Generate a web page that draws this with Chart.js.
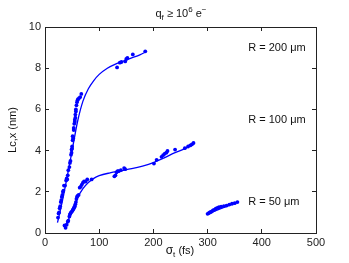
<!DOCTYPE html>
<html>
<head>
<meta charset="utf-8">
<script src="https://cdn.jsdelivr.net/npm/chart.js@4.4.1/dist/chart.umd.min.js"></script>
<style>
  html, body { margin: 0; padding: 0; background: #fff; }
</style>
</head>
<body>
<canvas id="chart" width="349" height="263"></canvas>
<script>
const r200X = [24, 25, 26, 27, 28, 29, 30, 31, 32, 33, 34, 35, 37, 39, 40, 41, 42, 43, 45, 46, 47, 48, 49, 49, 50, 50, 51, 51, 52, 53, 53, 54, 55, 55, 56, 56, 57, 57, 58, 59, 60, 61, 63, 65, 67,
               133, 138, 141, 148, 150, 152, 162, 185];
const r200Y = [0.75, 0.95, 1.0, 1.2, 1.3, 1.5, 1.6, 1.75, 1.85, 2.0, 2.05, 2.3, 2.3, 2.55, 2.65, 2.6, 2.8, 3.05, 3.2, 3.4, 3.5, 3.8, 3.9, 4.05, 4.1, 4.2, 4.5, 4.7, 4.6, 5.0, 5.1, 5.3, 5.4, 5.5, 5.6, 5.75, 5.9, 6.0, 6.2, 6.35, 6.45, 6.5, 6.55, 6.6, 6.75,
               8.04, 8.27, 8.3, 8.33, 8.45, 8.5, 8.67, 8.82];

const r100X = [36, 38, 40, 42, 43, 45, 46, 47, 48, 50, 51, 52, 53, 54, 55, 56, 57, 58, 59, 60, 62, 64, 66, 68, 70, 72, 75, 78, 86,
               128, 130, 132, 134, 136, 140, 146, 148,
               201, 206, 215, 218, 221, 224, 226, 240, 258, 264, 268, 271, 274];
const r100Y = [0.37, 0.25, 0.4, 0.55, 0.6, 0.8, 0.9, 0.95, 1.0, 1.05, 1.1, 1.15, 1.2, 1.25, 1.3, 1.4, 1.5, 1.65, 1.75, 1.8, 1.85, 2.2, 2.25, 2.35, 2.45, 2.5, 2.5, 2.6, 2.6,
               2.75, 2.8, 2.95, 3.0, 3.0, 3.05, 3.15, 3.1,
               3.37, 3.55, 3.7, 3.78, 3.85, 3.9, 3.98, 4.05, 4.12, 4.2, 4.25, 4.3, 4.37];

const r50X = [300, 302, 304, 306, 308, 310, 312, 315, 318, 321, 325, 330, 335, 340, 345, 350, 355];
const r50Y = [0.93, 0.96, 1.0, 1.02, 1.05, 1.1, 1.12, 1.18, 1.22, 1.25, 1.28, 1.3, 1.33, 1.38, 1.42, 1.45, 1.5];

// fitted curves
const fit200X = [23, 30, 40, 50, 60, 70, 80, 90, 100, 115, 130, 145, 160, 175, 187];
const fit200Y = [0.5, 1.3, 2.6, 4.0, 5.4, 6.4, 7.0, 7.4, 7.7, 8.0, 8.2, 8.35, 8.5, 8.65, 8.8];
const fit100X = [38, 45, 50, 55, 60, 70, 80, 90, 100, 120, 140, 160, 180, 200, 220, 240, 260, 275];
const fit100Y = [0.35, 0.75, 1.05, 1.35, 1.7, 2.15, 2.45, 2.65, 2.78, 2.92, 3.02, 3.12, 3.25, 3.42, 3.65, 3.9, 4.12, 4.35];
const fit50X = [300, 357];
const fit50Y = [0.93, 1.52];

const labelText = ["R = 200 \u03bcm", "R = 100 \u03bcm", "R = 50 \u03bcm"];
const labelX = [375, 375, 375];
const labelY = [9.0, 5.5, 1.5];

const xTicks = [0, 100, 200, 300, 400, 500];
const yTicks = [0, 2, 4, 6, 8, 10];

const BLUE = "rgb(0, 0, 255)";
const AXIS = "#222222";
const FONT = "'Liberation Sans', Arial, sans-serif";

const pts = (xs, ys) => xs.map((x, i) => ({ x: x, y: ys[i] }));

// annotations, title and axis labels
const textPlugin = {
    id: "textPlugin",
    afterDraw(chart) {
        const ctx = chart.ctx;
        const sx = chart.scales.x, sy = chart.scales.y;
        ctx.save();
        ctx.fillStyle = "#111111";
        ctx.font = "11px " + FONT;
        ctx.textBaseline = "middle";
        ctx.textAlign = "left";
        labelText.forEach((t, i) => {
            ctx.fillText(t, sx.getPixelForValue(labelX[i]), sy.getPixelForValue(labelY[i]));
        });

        ctx.textBaseline = "alphabetic";
        // title: q_f >= 10^6 e^-
        const parts = [
            ["q", 11, 0], ["f", 8, 3], [" \u2265 10", 11, 0], ["6", 8, -5], [" e", 11, 0], ["\u2212", 8, -5]
        ];
        let w = 0;
        parts.forEach(p => { ctx.font = p[1] + "px " + FONT; w += ctx.measureText(p[0]).width; });
        let x = 181 - w / 2;
        parts.forEach(p => {
            ctx.font = p[1] + "px " + FONT;
            ctx.fillText(p[0], x, 17 + p[2]);
            x += ctx.measureText(p[0]).width;
        });

        // x label: sigma_t (fs)
        const xparts = [["\u03c3", 12, 0], ["t", 8, 3], [" (fs)", 11, 0]];
        w = 0;
        xparts.forEach(p => { ctx.font = p[1] + "px " + FONT; w += ctx.measureText(p[0]).width; });
        x = 180 - w / 2;
        xparts.forEach(p => {
            ctx.font = p[1] + "px " + FONT;
            ctx.fillText(p[0], x, 254 + p[2]);
            x += ctx.measureText(p[0]).width;
        });

        // y label
        ctx.translate(13, 130);
        ctx.rotate(-Math.PI / 2);
        ctx.textAlign = "center";
        ctx.textBaseline = "middle";
        ctx.font = "11px " + FONT;
        ctx.fillText("Lc,x (nm)", 0, 0);
        ctx.restore();
    }
};

const lineDs = (xs, ys) => ({
    type: "line",
    data: pts(xs, ys),
    xAxisID: "x", yAxisID: "y",
    borderColor: BLUE,
    borderWidth: 1.3,
    pointRadius: 0,
    fill: false,
    cubicInterpolationMode: "monotone"
});
const dotDs = (xs, ys) => ({
    type: "scatter",
    data: pts(xs, ys),
    xAxisID: "x", yAxisID: "y",
    backgroundColor: BLUE,
    borderColor: BLUE,
    borderWidth: 0,
    pointRadius: 1.9
});

// inward ticks: negative tick length, no grid inside
const boxGrid = { drawOnChartArea: false, drawTicks: true, tickLength: -4, color: AXIS, lineWidth: 1 };
const boxBorder = { display: true, color: AXIS, width: 1 };

new Chart(document.getElementById("chart").getContext("2d"), {
    type: "scatter",
    data: {
        datasets: [
            lineDs(fit200X, fit200Y), lineDs(fit100X, fit100Y), lineDs(fit50X, fit50Y),
            dotDs(r200X, r200Y), dotDs(r100X, r100Y), dotDs(r50X, r50Y)
        ]
    },
    options: {
        responsive: false,
        devicePixelRatio: 1,
        animation: false,
        layout: { padding: { left: 0, right: 33, top: 27, bottom: 0 } },
        plugins: { legend: { display: false }, tooltip: { enabled: false } },
        scales: {
            x: {
                type: "linear", position: "bottom", min: 0, max: 500,
                grid: boxGrid, border: boxBorder,
                afterBuildTicks: s => { s.ticks = xTicks.map(v => ({ value: v })); },
                afterFit: s => { s.height = 30; },
                ticks: { color: "#222", padding: 7, maxRotation: 0, font: { family: FONT, size: 11 } }
            },
            y: {
                type: "linear", position: "left", min: 0, max: 10,
                grid: boxGrid, border: boxBorder,
                afterBuildTicks: s => { s.ticks = yTicks.map(v => ({ value: v })); },
                afterFit: s => { s.width = 45; },
                ticks: { color: "#222", padding: 8, font: { family: FONT, size: 11 } }
            },
            x2: {
                type: "linear", position: "top", min: 0, max: 500,
                grid: boxGrid, border: boxBorder,
                afterBuildTicks: s => { s.ticks = xTicks.map(v => ({ value: v })); },
                afterFit: s => { s.height = 0; },
                ticks: { display: false }
            },
            y2: {
                type: "linear", position: "right", min: 0, max: 10,
                grid: boxGrid, border: boxBorder,
                afterBuildTicks: s => { s.ticks = yTicks.map(v => ({ value: v })); },
                afterFit: s => { s.width = 0; },
                ticks: { display: false }
            }
        }
    },
    plugins: [textPlugin]
});
</script>
</body>
</html>
